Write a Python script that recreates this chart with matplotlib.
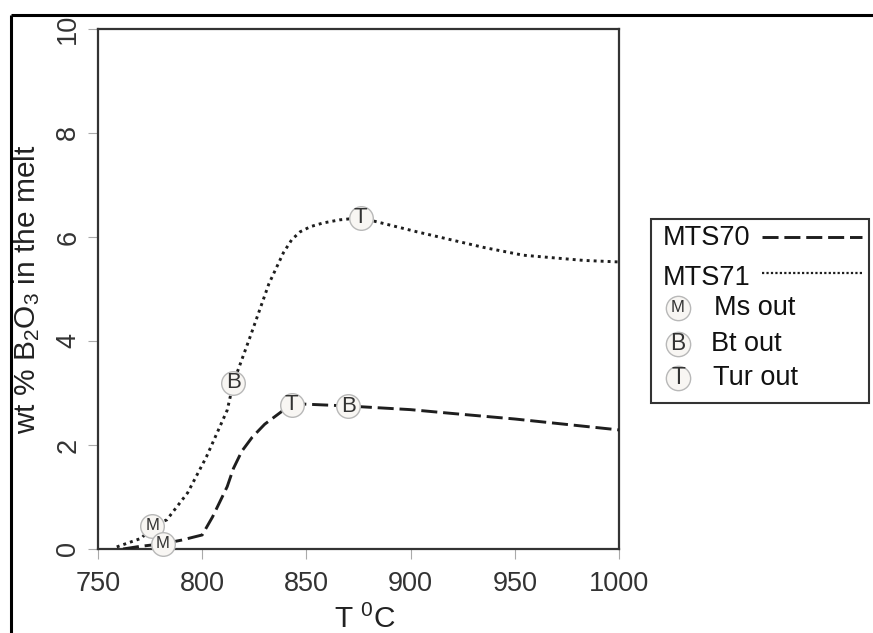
import matplotlib
matplotlib.use("Agg")
import matplotlib.pyplot as plt
from matplotlib.lines import Line2D
from matplotlib.patches import Rectangle

plt.rcParams['font.family'] = ['Liberation Sans', 'DejaVu Sans']
plt.rcParams['mathtext.fontset'] = 'custom'
plt.rcParams['mathtext.rm'] = 'Liberation Sans'
plt.rcParams['mathtext.it'] = 'Liberation Sans:italic'

# ---- data ----
t70 = [762, 770, 781, 790, 800, 805, 812, 815, 819, 824, 830, 836, 840, 843, 847, 870, 900, 919, 950, 1000]
b70 = [0.0, 0.05, 0.1, 0.17, 0.27, 0.62, 1.2, 1.55, 1.88, 2.15, 2.4, 2.58, 2.7, 2.77, 2.79, 2.75, 2.68, 2.61, 2.5, 2.29]

t71 = [759, 771, 776, 783, 793, 802, 812, 815, 823, 832, 839, 843, 847, 852, 858, 866, 876, 903, 935, 954, 983, 1000]
b71 = [0.04, 0.21, 0.45, 0.56, 1.08, 1.77, 2.67, 3.2, 4.08, 5.1, 5.7, 5.95, 6.1, 6.2, 6.27, 6.33, 6.37, 6.1, 5.8, 5.65, 5.55, 5.52]

ms_t = [776, 781]
ms_b = [0.45, 0.1]
bt_t = [815, 870]
bt_b = [3.2, 2.75]
tur_t = [876, 843]
tur_b = [6.37, 2.77]

xticks = [750, 800, 850, 900, 950, 1000]
yticks = [0, 2, 4, 6, 8, 10]

W, H = 873, 633
fig = plt.figure(figsize=(W / 100, H / 100), dpi=100)

def fx(x):
    return x / W

def fy(y):
    return 1 - y / H

ax = fig.add_axes([fx(98), fy(549), fx(619) - fx(98), fy(29) - fy(549)])

line_col = '#1e1e1e'
ax.plot(t70, b70, color=line_col, lw=2.1, linestyle=(0, (5.5, 2.0)), zorder=3)
ax.plot(t71, b71, color=line_col, lw=2.1, linestyle=(0, (1.0, 1.4)), zorder=3)

mk = dict(marker='o', markersize=17, markerfacecolor='#f8f6f3',
          markeredgecolor='#b8b8b8', markeredgewidth=1.0, linestyle='none', zorder=4)
for ts, bs, letter, fs in [(ms_t, ms_b, 'M', 12), (bt_t, bt_b, 'B', 16), (tur_t, tur_b, 'T', 16)]:
    ax.plot(ts, bs, clip_on=False, **mk)
    for t, b in zip(ts, bs):
        ax.text(t, b, letter, ha='center', va='center', fontsize=fs,
                color='#333333', zorder=5, clip_on=False)

ax.set_xlim(750, 1000)
ax.set_ylim(0, 10)
ax.set_xticks(xticks)
ax.set_yticks(yticks)
ax.set_xticklabels([str(v) for v in xticks])
ax.set_yticklabels([str(v) for v in yticks], rotation=90, va='center')
ax.tick_params(axis='both', direction='out', length=7, width=0.8, color='#aaaaaa',
               labelsize=19.5, labelcolor='#333333')
ax.tick_params(axis='x', pad=9)
ax.tick_params(axis='y', pad=5)
for s in ax.spines.values():
    s.set_color('#333333')
    s.set_linewidth(1.6)

ax.set_ylabel('wt % B$_2$O$_3$ in the melt', fontsize=21.5, color='#222222')
ax.yaxis.set_label_coords((27 - 98) / 521, 0.5)
ax.yaxis.label.set_va('center')
ax.set_xlabel('T $^0$C', fontsize=21.5, color='#222222')
ax.xaxis.set_label_coords((365 - 98) / 521, -(619 - 549) / 520)
ax.xaxis.label.set_va('center')

# ---- legend (drawn manually) ----
fig.add_artist(Rectangle((fx(651), fy(403)), fx(869) - fx(651), fy(219) - fy(403),
                         fill=False, edgecolor='#333333', lw=1.5, transform=fig.transFigure))
lfs = 19.5
fig.text(fx(663), fy(238), 'MTS70', fontsize=lfs, va='center', ha='left', color='#111111')
fig.text(fx(663), fy(278), 'MTS71', fontsize=lfs, va='center', ha='left', color='#111111')
fig.add_artist(Line2D([fx(762), fx(862)], [fy(237), fy(237)], color=line_col, lw=2.1,
                      linestyle=(0, (5.5, 2.0)), transform=fig.transFigure))
fig.add_artist(Line2D([fx(762), fx(862)], [fy(273), fy(273)], color=line_col, lw=1.6,
                      linestyle=(0, (1.0, 1.0)), transform=fig.transFigure))
mk_leg = dict(mk)
mk_leg['markersize'] = 17.5
for yc, letter, lab, tx, fs in [(308, 'M', 'Ms out', 714, 12), (344, 'B', 'Bt out', 711, 16.5),
                                (378, 'T', 'Tur out', 713, 16.5)]:
    fig.add_artist(Line2D([fx(678)], [fy(yc)], transform=fig.transFigure, **mk_leg))
    fig.text(fx(678), fy(yc), letter, fontsize=fs, ha='center', va='center',
             color='#333333', zorder=6)
    fig.text(fx(tx), fy(yc), lab, fontsize=lfs, ha='left', va='center', color='#111111')

# ---- outer frame lines (top and left) ----
fig.add_artist(Line2D([fx(10.5), 1], [fy(15), fy(15)], color='black', lw=2.2,
                      transform=fig.transFigure, solid_capstyle='butt'))
fig.add_artist(Line2D([fx(10.5), fx(10.5)], [fy(15), 0], color='black', lw=2.2,
                      transform=fig.transFigure, solid_capstyle='butt'))

fig.savefig('out.png', dpi=100)
